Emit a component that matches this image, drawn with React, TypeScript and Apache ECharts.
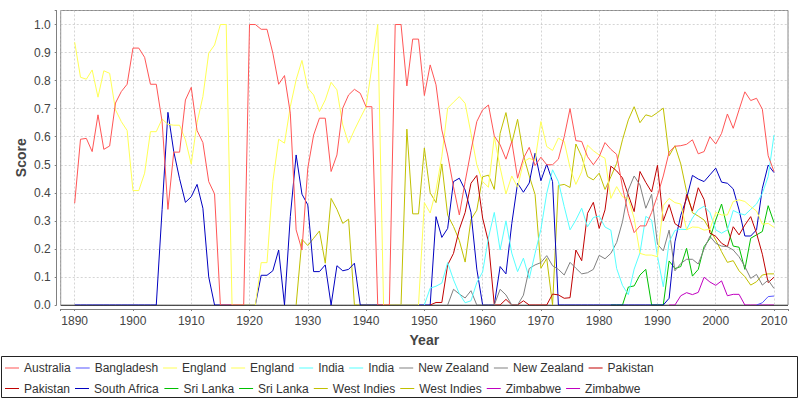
import React, { useEffect, useRef } from 'react';
import * as echarts from 'echarts';

// ---- Data (value per year; each series starts at its own first year) ----
const australiaStart = 1890;
const australia = [
  0.363, 0.591, 0.594, 0.547, 0.678, 0.555, 0.567, 0.72, 0.761, 0.787,
  0.916, 0.916, 0.883, 0.787, 0.787, 0.654, 0.341, 0.545, 0.545, 0.731,
  0.776, 0.622, 0.579, 0.44, 0.396, 0, 0, 0, 0, 0,
  1.0, 1.0, 0.983, 0.983, 0.898, 0.787, 0.818, 0.684, 0.268, 0.196,
  0.488, 0.606, 0.666, 0.666, 0.476, 0.535, 0.702, 0.749, 0.769, 0.755,
  0.707, 0.707, 0, 0, 0, 1.0, 1.0, 0.781, 0.948, 0.948,
  0.747, 0.856, 0.785, 0.624, 0.535, 0.422, 0.321, 0.44, 0.55, 0.654,
  0.696, 0.713, 0.603, 0.571, 0.52, 0.583, 0.452, 0.523, 0.562, 0.497,
  0.527, 0.5, 0.5, 0.52, 0.6, 0.7, 0.586, 0.583, 0.529, 0.5,
  0.529, 0.579, 0.555, 0.537, 0.42, 0.326, 0.258, 0.282, 0.282, 0.33,
  0.39, 0.46, 0.545, 0.566, 0.568, 0.573, 0.589, 0.539, 0.547, 0.6,
  0.574, 0.612, 0.681, 0.63, 0.696, 0.76, 0.729, 0.737, 0.698, 0.532,
  0.476,
];

const bangladeshStart = 2007;
const bangladesh = [0, 0.008, 0.03, 0.032];

const englandStart = 1890;
const england = [
  0.937, 0.812, 0.805, 0.838, 0.741, 0.835, 0.826, 0.696, 0.654, 0.622,
  0.408, 0.408, 0.47, 0.618, 0.618, 0.663, 0.644, 0.641, 0.641, 0.589,
  0.502, 0.65, 0.743, 0.898, 0.927, 1.0, 1.0, 0, 0, 0,
  0, 0, 0.151, 0.151, 0.44, 0.591, 0.577, 0.707, 0.803, 0.872,
  0.773, 0.749, 0.69, 0.731, 0.794, 0.767, 0.642, 0.577, 0.624, 0.666,
  0.707, 0.85, 1.0, 0, 0, 0, 0, 0, 0, 0,
  0.365, 0.328, 0.41, 0.53, 0.702, 0.723, 0.743, 0.719, 0.612, 0.5,
  0.44, 0.42, 0.6, 0.49, 0.396, 0.46, 0.42, 0.51, 0.523, 0.515,
  0.654, 0.565, 0.551, 0.595, 0.583, 0.49, 0.43, 0.475, 0.57, 0.55,
  0.535, 0.523, 0.38, 0.422, 0.386, 0.38, 0.309, 0.184, 0.178, 0.178,
  0.172, 0.355, 0.38, 0.365, 0.36, 0.268, 0.278, 0.277, 0.267, 0.27,
  0.33, 0.321, 0.321, 0.369, 0.375, 0.369, 0.351, 0.335, 0.288, 0.291,
  0.277,
];

const indiaStart = 1950;
const india = [
  0, 0.06, 0.067, 0.078, 0.151, 0.09, 0.04, 0.008, 0.015, 0.08,
  0.118, 0.24, 0.33, 0.196, 0.3, 0.185, 0.119, 0.167, 0.095, 0.184,
  0.27, 0.398, 0.482, 0.44, 0.351, 0.268, 0.303, 0.345, 0.279, 0.312,
  0.317, 0.278, 0.267, 0.13, 0.07, 0.037, 0.128, 0.186, 0.316, 0.303,
  0.175, 0.065, 0.225, 0.266, 0.27, 0.269, 0.31, 0.34, 0.352, 0.33,
  0.268, 0.256, 0.268, 0.337, 0.327, 0.321, 0.341, 0.36, 0.398, 0.458,
  0.606,
];

const newZealandStart = 1954;
const newZealand = [
  0, 0.056, 0.039, 0.025, 0.051, 0,
  0, 0, 0, 0.056, 0.036, 0, 0, 0.035, 0.13, 0.143,
  0.151, 0.176, 0.14, 0.127, 0.107, 0.152, 0.131, 0.111, 0.115, 0.127,
  0.177, 0.165, 0.184, 0.223, 0.297, 0.41, 0.46, 0.428, 0.345, 0.395,
  0.217, 0.193, 0.267, 0.122, 0.148, 0.163, 0.163, 0.146, 0.2, 0.245,
  0.22, 0.21, 0.208, 0.196, 0.172, 0.137, 0.095, 0.109, 0.071, 0.089,
  0.059,
];

const pakistanStart = 1951;
const pakistan = [
  0, 0.009, 0.009, 0.143, 0.184, 0.27, 0.33, 0.434, 0.462,
  0.31, 0.225, 0, 0, 0.02, 0, 0, 0.015, 0, 0,
  0, 0, 0.039, 0.036, 0.024, 0.026, 0.196, 0.158, 0.327, 0.366,
  0.273, 0.339, 0.495, 0.478, 0.453, 0.392, 0.333, 0.476, 0.437, 0.403,
  0.498, 0.3, 0.358, 0.29, 0.276, 0.394, 0.335, 0.418, 0.376, 0.256,
  0.245, 0.22, 0.208, 0.279, 0.25, 0.285, 0.315, 0.256, 0.181, 0.08,
  0.099,
];

const southAfricaStart = 1890;
const southAfrica = [
  0, 0, 0, 0, 0, 0, 0, 0, 0, 0,
  0, 0, 0, 0, 0, 0.34, 0.687, 0.547, 0.45, 0.366,
  0.386, 0.43, 0.345, 0.1, 0, 0, 0, 0, 0, 0,
  0, 0, 0.106, 0.106, 0.122, 0.196, 0, 0.315, 0.535, 0.395,
  0.357, 0.119, 0.119, 0.143, 0, 0.14, 0.122, 0.127, 0.149, 0,
  0, 0, 0, 0, 0, 0, 0, 0, 0, 0,
  0, 0, 0.315, 0.241, 0.273, 0.44, 0.452, 0.41, 0.33, 0.128,
  0, 0, 0, 0.137, 0.111, 0.29, 0.434, 0.402, 0.435, 0.541,
  0.443, 0.502, 0.44, 0, 0, 0, 0, 0, 0, 0,
  0, 0, 0, 0, 0, 0, 0, 0, 0, 0,
  0, 0, 0.024, 0.225, 0.32, 0.38, 0.462, 0.449, 0.44, 0.464,
  0.488, 0.438, 0.434, 0.414, 0.339, 0.246, 0.246, 0.268, 0.416, 0.499,
  0.472,
];

const sriLankaStart = 1982;
const sriLanka = [
  0, 0, 0, 0.064, 0.068, 0.107, 0.127, 0,
  0, 0, 0.157, 0.13, 0.137, 0.202, 0.103, 0.127, 0.208, 0.237,
  0.303, 0.36, 0.273, 0.21, 0.206, 0.127, 0.238, 0.25, 0.262, 0.354,
  0.294,
];

const westIndiesStart = 1928;
const westIndies = [
  0, 0.234,
  0.212, 0.238, 0.264, 0.149, 0.38, 0.341, 0.291, 0.306, 0, 0,
  0, 0, 0, 0, 0, 0, 0, 0.627, 0.325, 0.325,
  0.56, 0.4, 0.365, 0.503, 0.32, 0.28, 0.23, 0.153, 0.305, 0.338,
  0.457, 0.463, 0.412, 0.612, 0.686, 0.577, 0.662, 0.535, 0.46, 0.394,
  0.131, 0.166, 0, 0.426, 0.43, 0.419, 0.574, 0.529, 0.458, 0.446,
  0.47, 0.412, 0.457, 0.505, 0.589, 0.66, 0.707, 0.65, 0.678, 0.672,
  0.686, 0.702, 0.532, 0.568, 0.503, 0.404, 0.329, 0.317, 0.303, 0.268,
  0.232, 0.19, 0.152, 0.158, 0.122, 0.101, 0.071, 0.083, 0.107, 0.111,
  0.111,
];

const zimbabweStart = 1992;
const zimbabwe = [
  0, 0, 0.033, 0.044, 0.037, 0.045, 0.099, 0.082,
  0.07, 0.086, 0.033, 0.038, 0.038, 0, 0, 0, 0, 0,
  0,
];

// Legend entries in order (duplicated names carry a "#2" suffix internally)
const legendRow1 = ['Australia', 'Bangladesh', 'England', 'England#2', 'India', 'India#2', 'New Zealand', 'New Zealand#2', 'Pakistan'];
const legendRow2 = ['Pakistan#2', 'South Africa', 'Sri Lanka', 'Sri Lanka#2', 'West Indies', 'West Indies#2', 'Zimbabwe', 'Zimbabwe#2'];

const xTickStep = 10;

const FONT = "'Liberation Sans', Arial, sans-serif";

type Def = { key: string; color: string; start: number; values: number[] };

const defs: Def[] = [
  { key: 'Australia', color: '#FF5555', start: australiaStart, values: australia },
  { key: 'Bangladesh', color: '#5555FF', start: bangladeshStart, values: bangladesh },
  { key: 'England', color: '#FFFF55', start: englandStart, values: england },
  { key: 'England#2', color: '#FFFF55', start: englandStart, values: [] },
  { key: 'India', color: '#55FFFF', start: indiaStart, values: india },
  { key: 'India#2', color: '#55FFFF', start: indiaStart, values: [] },
  { key: 'New Zealand', color: '#808080', start: newZealandStart, values: newZealand },
  { key: 'New Zealand#2', color: '#808080', start: newZealandStart, values: [] },
  { key: 'Pakistan', color: '#C00000', start: pakistanStart, values: pakistan },
  { key: 'Pakistan#2', color: '#C00000', start: pakistanStart, values: [] },
  { key: 'South Africa', color: '#0000C0', start: southAfricaStart, values: southAfrica },
  { key: 'Sri Lanka', color: '#00C000', start: sriLankaStart, values: sriLanka },
  { key: 'Sri Lanka#2', color: '#00C000', start: sriLankaStart, values: [] },
  { key: 'West Indies', color: '#C0C000', start: westIndiesStart, values: westIndies },
  { key: 'West Indies#2', color: '#C0C000', start: westIndiesStart, values: [] },
  { key: 'Zimbabwe', color: '#C000C0', start: zimbabweStart, values: zimbabwe },
  { key: 'Zimbabwe#2', color: '#C000C0', start: zimbabweStart, values: [] },
];

const legendCommon = {
  left: 5,
  padding: 0,
  orient: 'horizontal',
  icon: 'rect',
  itemWidth: 14,
  itemHeight: 1,
  itemGap: 5,
  selectedMode: false,
  textStyle: { fontFamily: FONT, fontSize: 12, color: '#333' },
  formatter: (name: string) => name.split('#')[0],
};

export default function App() {
  const ref = useRef<HTMLDivElement>(null);

  useEffect(() => {
    if (!ref.current) return;
    const chart = echarts.init(ref.current, null, { renderer: 'svg' });

    // JFreeChart draws the first series on top: add them in reverse order.
    const series: any[] = defs
      .slice()
      .reverse()
      .map((d) => ({
        name: d.key,
        type: 'line',
        data: d.values.map((v, i) => [d.start + i, v]),
        symbol: 'none',
        showSymbol: false,
        color: d.color,
        lineStyle: { color: d.color, width: 1 },
        emphasis: { disabled: true },
        silent: true,
      }));
    // zero baseline
    const firstWithData = series.find((s) => s.data.length > 0);
    firstWithData.markLine = {
      silent: true,
      symbol: 'none',
      label: { show: false },
      lineStyle: { color: '#000', width: 0.6, type: 'solid' },
      emphasis: { disabled: true },
      data: [{ yAxis: 0 }],
    };

    chart.setOption({
      animation: false,
      backgroundColor: '#ffffff',
      grid: {
        left: 60.7,
        top: 10.5,
        right: 12,
        bottom: 95,
        show: true,
        backgroundColor: '#ffffff',
        borderColor: '#8a8a8a',
        borderWidth: 1,
        containLabel: false,
        outerBoundsMode: 'none',
      },
      xAxis: {
        type: 'value',
        min: 1887.6,
        max: 2012.4,
        splitNumber: 12,
        offset: 4,
        name: 'Year',
        nameLocation: 'middle',
        nameGap: 24,
        nameMoveOverlap: false,
        nameTextStyle: { fontFamily: FONT, fontSize: 14, fontWeight: 'bold', color: '#444' },
        axisLine: { show: true, onZero: false, lineStyle: { color: '#808080', width: 1 } },
        axisTick: { show: true, length: 2, lineStyle: { color: '#808080' } },
        axisLabel: {
          margin: 6,
          color: '#444',
          fontFamily: FONT,
          fontSize: 12,
          formatter: (v: number) => {
            const r = Math.round(v);
            return Math.abs(v - r) < 1e-6 && r % xTickStep === 0 ? String(r) : '';
          },
        },
        splitLine: { show: true, lineStyle: { color: '#b8b8b8', width: 0.6, type: [2, 2] } },
      },
      yAxis: {
        type: 'value',
        min: 0,
        max: 1.05,
        interval: 0.1,
        offset: 4,
        name: 'Score',
        nameLocation: 'middle',
        nameGap: 29,
        nameMoveOverlap: false,
        nameTextStyle: { fontFamily: FONT, fontSize: 14, fontWeight: 'bold', color: '#444' },
        axisLine: { show: true, onZero: false, lineStyle: { color: '#808080', width: 1 } },
        axisTick: { show: true, length: 2, lineStyle: { color: '#808080' } },
        axisLabel: {
          margin: 6,
          color: '#444',
          fontFamily: FONT,
          fontSize: 12,
          formatter: (v: number) => (v > 1.0001 ? '' : v.toFixed(1)),
        },
        splitLine: { show: true, lineStyle: { color: '#b8b8b8', width: 0.6, type: [2, 2] } },
      },
      legend: [
        { ...legendCommon, top: 362, data: legendRow1 },
        { ...legendCommon, top: 382.5, data: legendRow2 },
      ],
      graphic: [
        {
          type: 'rect',
          silent: true,
          shape: { x: 1.5, y: 356.5, width: 796, height: 41 },
          style: { fill: 'none', stroke: '#222', lineWidth: 1 },
        },
      ],
      series,
    });

    return () => chart.dispose();
  }, []);

  return (
    <div
      ref={ref}
      style={{ position: 'fixed', left: 0, top: 0, width: 800, height: 400, background: '#fff' }}
    />
  );
}
